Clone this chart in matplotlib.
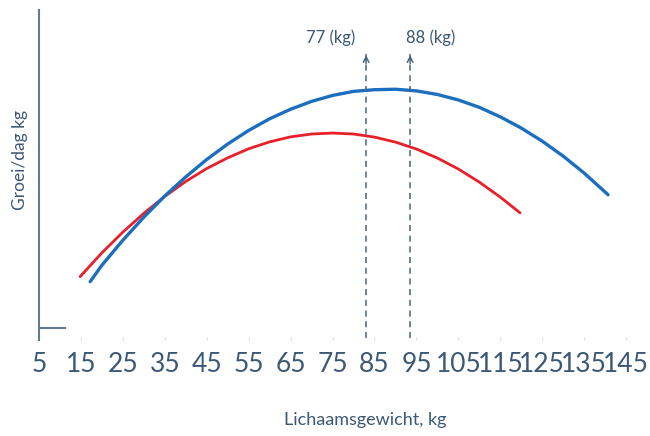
import matplotlib.pyplot as plt

plt.rcParams['font.family'] = ['Lato', 'DejaVu Sans']

# lichaamsgewicht (kg) en groei per dag
blauw_x = [17.2, 20, 25, 30, 35, 40, 45, 50, 55, 60, 65, 70, 75, 80, 85, 90,
           95, 100, 105, 110, 115, 120, 125, 130, 135, 140.7]
blauw_y = [0.195, 0.264, 0.369, 0.466, 0.555, 0.635, 0.708, 0.773, 0.830, 0.879,
           0.919, 0.952, 0.977, 0.994, 1.001, 1.003, 0.996, 0.981, 0.958, 0.927,
           0.887, 0.840, 0.785, 0.722, 0.651, 0.560]
rood_x = [14.8, 20, 25, 30, 35, 40, 45, 50, 55, 60, 65, 70, 75, 80, 85, 90,
          95, 100, 105, 110, 115, 119.7]
rood_y = [0.216, 0.316, 0.403, 0.482, 0.553, 0.616, 0.670, 0.715, 0.753, 0.782,
          0.803, 0.815, 0.819, 0.815, 0.802, 0.781, 0.752, 0.714, 0.668, 0.613,
          0.550, 0.484]

ticks = [5, 15, 25, 35, 45, 55, 65, 75, 85, 95, 105, 115, 125, 135, 145]
pijl_x = [83.0, 93.5]
pijl_tekst = ["77 (kg)", "88 (kg)"]
tekst_x = [74.6, 98.5]

tekstkleur = '#3b5876'
askleur = '#5f7a92'

fig = plt.figure(figsize=(6.5, 4.36), dpi=100)
ax = fig.add_axes([0.06, 0.2202, 0.94, 0.757])

ax.plot(rood_x, rood_y, color='#e8202a', lw=2.0, solid_capstyle='round',
        solid_joinstyle='round')
ax.plot(blauw_x, blauw_y, color='#1c6fbe', lw=2.4, solid_capstyle='round',
        solid_joinstyle='round')

for x, t, tx in zip(pijl_x, pijl_tekst, tekst_x):
    ax.plot([x, x], [-0.04, 1.15], color='#4a6580', lw=1.1, ls=(0, (4, 3)))
    ax.annotate('', xy=(x, 1.158), xytext=(x, 1.10),
                arrowprops=dict(arrowstyle='->', color='#4a6580', lw=1.1,
                                mutation_scale=10))
    ax.text(tx, 1.218, t, ha='center', va='center', fontsize=12, color=tekstkleur)

ax.plot([5, 11.2], [0, 0], color=askleur, lw=1.5)

ax.set_xlim(5, 150.7)
ax.set_ylim(-0.05, 1.336)
ax.set_xticks(ticks)
ax.set_xticklabels([str(t) for t in ticks])
ax.set_yticks([])
ax.tick_params(axis='x', direction='in', length=2, color='#dddddd', pad=9,
               labelsize=19, labelcolor=tekstkleur)
for s in ['top', 'right', 'bottom']:
    ax.spines[s].set_visible(False)
ax.spines['left'].set_color(askleur)
ax.spines['left'].set_linewidth(1.5)

fig.text(365 / 650, 1 - 420 / 436, 'Lichaamsgewicht, kg', ha='center', va='center',
         fontsize=13, color=tekstkleur)
fig.text(20 / 650, 1 - 160 / 436, 'Groei/dag kg', ha='center', va='center',
         rotation=90, fontsize=12.5, color=tekstkleur)

fig.savefig('out.png', dpi=100)
